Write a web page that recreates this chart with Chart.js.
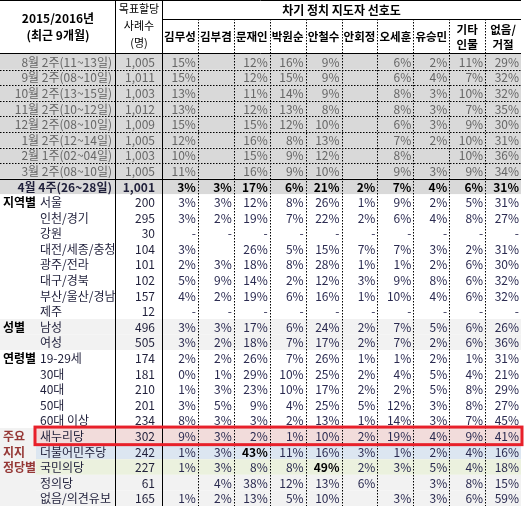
<!DOCTYPE html>
<html><head><meta charset="utf-8">
<script src="https://cdn.jsdelivr.net/npm/chart.js@4"></script>
<style>html,body{margin:0;background:#fff}#wrap{width:525px;height:510px}</style>
</head><body><div id="wrap"><canvas id="c"></canvas></div>
<script>
const candidates = ['김무성','김부겸','문재인','박원순','안철수','안회정','오세훈','유승민','기타 인물','없음/거절'];
const rowLabels = ['8월 2주(11~13일)','9월 2주(08~10일)','10월 2주(13~15일)','11월 2주(10~12일)','12월 2주(08~10일)',
  '1월 2주(12~14일)','2월 1주(02~04일)','3월 2주(08~10일)','4월 4주(26~28일)',
  '서울','인천/경기','강원','대전/세종/충청','광주/전라','대구/경북','부산/울산/경남','제주',
  '남성','여성','19-29세','30대','40대','50대','60대 이상',
  '새누리당','더불어민주당','국민의당','정의당','없음/의견유보'];
const sampleSizes = ['1,005','1,011','1,003','1,012','1,009','1,005','1,003','1,005','1,001',
  '200','295','30','104','101','102','157','12','496','505','174','181','210','201','234','302','242','227','61','165'];
const groupLabels = {9:'지역별',17:'성별',19:'연령별',24:'주요',25:'지지',26:'정당별'};
const D = '-';
const kimMS  = [15,15,13,13,15,12,10,11, 3, 3,3,D,3,2,5,4,D, 3,3, 2,0,1,3,8, 9,1,1,null,1];
const kimBG  = [null,null,null,null,null,null,null,null, 3, 3,2,D,null,3,9,2,D, 3,2, 2,1,3,5,3, 3,3,3,4,2];
const moon   = [12,12,11,12,15,16,15,16,17, 12,19,D,26,18,14,19,D, 17,18, 26,29,23,9,3, 2,43,8,38,13];
const parkWS = [16,15,14,13,12,8,9,9, 6, 8,7,D,5,8,2,6,D, 6,7, 7,10,10,4,2, 1,11,8,12,5];
const ahnCS  = [9,9,9,8,10,13,12,10,21, 26,22,D,15,28,12,16,D, 24,17, 26,25,17,25,13, 10,16,49,13,10];
const ahnHJ  = [null,null,null,null,null,null,null,null, 2, 1,2,D,7,1,3,1,D, 2,2, 1,2,2,5,1, 2,3,2,6,null];
const ohSH   = [6,6,8,8,6,7,8,9, 7, 9,6,D,7,1,9,10,D, 7,7, 1,4,2,12,14, 19,1,3,null,3];
const yooSM  = [2,4,3,3,3,2,null,3, 4, 2,4,D,3,2,8,4,D, 5,2, 2,5,5,3,3, 4,2,5,3,3];
const others = [11,7,10,7,9,10,10,9, 6, 5,8,D,2,6,6,6,D, 6,6, 1,4,8,8,7, 9,4,4,8,6];
const noneR  = [29,32,32,35,30,31,36,34,31, 31,27,D,31,30,32,32,D, 26,36, 31,21,29,27,45, 41,16,18,15,59];
const series = [kimMS,kimBG,moon,parkWS,ahnCS,ahnHJ,ohSH,yooSM,others,noneR];
const boldCells = {'8':'all','25-2':1,'26-4':1};

const FONT = '"Noto Sans CJK KR", "Noto Sans", sans-serif';
const rowFill = i => i <= 8 ? '#d9d9d9' : (i === 17 || i === 18) ? '#f2f2f2' : i === 24 ? '#f2dcdb' :
  i === 25 ? '#dce6f1' : i === 26 ? '#ebf1de' : i >= 27 ? '#f2f2f2' : '#ffffff';

const tablePlugin = {
  id: 'table',
  beforeDatasetsDraw(chart) {
    const ctx = chart.ctx, y = chart.scales.y, x = chart.scales.x;
    const h = y.getPixelForValue(1) - y.getPixelForValue(0);
    const top = chart.chartArea.top, bottom = chart.chartArea.bottom, right = x.getPixelForValue(9) + (x.getPixelForValue(1)-x.getPixelForValue(0))/2;
    ctx.save();
    rowLabels.forEach((r, i) => {
      const cy = y.getPixelForValue(i);
      const fx = (i >= 9 && i <= 28 && rowFill(i) !== '#ffffff' && i < 24) ? 0 : (i >= 24 ? 36 : 0);
      ctx.fillStyle = rowFill(i);
      ctx.fillRect(fx, cy - h/2, right - fx, h);
    });
    // party group label cells
    ctx.fillStyle = '#f2f2f2';
    ctx.fillRect(0, y.getPixelForValue(24) - h/2, 36, h*5);
    ctx.strokeStyle = '#000'; ctx.lineWidth = 1;
    ctx.setLineDash([1.5,1.5]);
    for (let i = 1; i <= 8; i++) {
      const yy = Math.round(y.getPixelForValue(i) - h/2) + 0.5;
      ctx.beginPath(); ctx.moveTo(0, yy); ctx.lineTo(right, yy); ctx.stroke();
    }
    for (let c = 1; c < 10; c++) {
      const xx = Math.round((x.getPixelForValue(c-1) + x.getPixelForValue(c))/2) + 0.5;
      ctx.beginPath(); ctx.moveTo(xx, 19); ctx.lineTo(xx, bottom); ctx.stroke();
    }
    ctx.setLineDash([]);
    const l0 = chart.chartArea.left + 0.5;
    [115.5, l0].forEach(xx => { ctx.beginPath(); ctx.moveTo(xx, 0); ctx.lineTo(xx, bottom); ctx.stroke(); });
    [0.5, top - 0.5, Math.round(y.getPixelForValue(8) - h/2) + 0.5].forEach(yy => {
      ctx.beginPath(); ctx.moveTo(0, yy); ctx.lineTo(right, yy); ctx.stroke();
    });
    ctx.beginPath(); ctx.moveTo(l0, 19.5); ctx.lineTo(right, 19.5); ctx.stroke();
    ctx.restore();
  },
  afterDatasetsDraw(chart) {
    const ctx = chart.ctx, y = chart.scales.y, x = chart.scales.x;
    const h = y.getPixelForValue(1) - y.getPixelForValue(0);
    const cw = x.getPixelForValue(1) - x.getPixelForValue(0);
    ctx.save();
    ctx.textBaseline = 'middle';
    // header
    ctx.fillStyle = '#000';
    ctx.textAlign = 'center';
    ctx.font = 'bold 12px ' + FONT;
    ctx.fillText('2015/2016년', 58, 18); ctx.fillText('(최근 9개월)', 58, 35);
    ctx.fillText('차기 정치 지도자 선호도', (chart.chartArea.left + x.getPixelForValue(9) + cw/2)/2, 10);
    ctx.font = '11px ' + FONT;
    ctx.fillText('목표할당', 139, 9); ctx.fillText('사례수', 139, 26); ctx.fillText('(명)', 139, 43);
    ctx.font = 'bold 11.5px ' + FONT;
    candidates.forEach((c, i) => {
      const cx = x.getPixelForValue(i);
      const parts = c.split(' ');
      if (i === 9) { ctx.fillText('없음/', cx, 30); ctx.fillText('거절', cx, 45); }
      else if (parts.length > 1) { ctx.fillText(parts[0], cx, 30); ctx.fillText(parts[1], cx, 45); }
      else ctx.fillText(c, cx, 37);
    });
    // row texts
    rowLabels.forEach((r, i) => {
      const cy = y.getPixelForValue(i) + 0.5;
      const bold = i === 8;
      ctx.fillStyle = i < 8 ? '#666666' : '#1f1f3a';
      ctx.font = (bold ? 'bold ' : '') + '12px ' + FONT;
      if (i <= 8) { ctx.textAlign = 'right'; ctx.fillText(r, 112, cy); }
      else { ctx.textAlign = 'left'; ctx.fillText(r, 40, cy); }
      ctx.textAlign = 'right';
      ctx.fillStyle = i < 8 ? '#666666' : '#1f1f3a';
      ctx.fillText(sampleSizes[i], 155, cy);
      if (groupLabels[i]) {
        ctx.textAlign = 'left';
        ctx.font = 'bold 12px ' + FONT;
        ctx.fillStyle = i >= 24 ? '#953735' : '#000';
        ctx.fillText(groupLabels[i], 3, cy);
      }
    });
    chart.data.datasets.forEach((ds, di) => {
      chart.getDatasetMeta(di).data.forEach((pt, ri) => {
        const v = series[di][ri];
        if (v === null || v === undefined) return;
        const bold = ri === 8 || boldCells[ri + '-' + di];
        ctx.font = (bold ? 'bold ' : '') + '12px ' + FONT;
        ctx.fillStyle = bold ? '#000' : (ri < 8 ? '#666666' : '#2a2a50');
        ctx.textAlign = 'right';
        ctx.fillText(v === D ? '-' : v + '%', pt.x + cw/2 - 2, pt.y + 0.5);
      });
    });
    // highlight box
    const ry = y.getPixelForValue(24);
    ctx.strokeStyle = '#e8202a'; ctx.lineWidth = 3;
    ctx.strokeRect(35, ry - h/2 - 1, x.getPixelForValue(9) + cw/2 - 34, h + 2);
    ctx.restore();
  }
};

new Chart(document.getElementById('c'), {
  type: 'scatter',
  data: {
    datasets: series.map((s, di) => ({
      label: candidates[di],
      data: rowLabels.map((r, ri) => ({ x: candidates[di], y: r })),
      pointRadius: 0
    }))
  },
  options: {
    responsive: true, maintainAspectRatio: false, animation: false,
    layout: { padding: { left: 162, top: 54, right: 4, bottom: 4 } },
    plugins: { legend: { display: false }, tooltip: { enabled: false } },
    scales: {
      x: { type: 'category', labels: candidates, offset: true, display: false },
      y: { type: 'category', labels: rowLabels, offset: true, display: false }
    }
  },
  plugins: [tablePlugin]
});
</script></body></html>
